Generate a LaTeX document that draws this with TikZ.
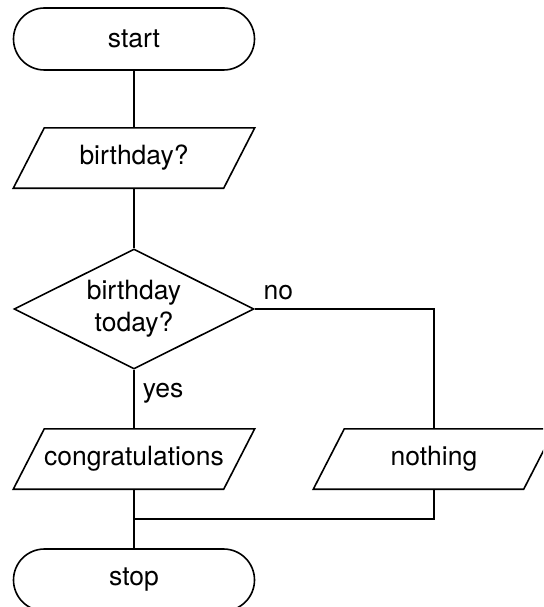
\documentclass[tikz,border=0pt]{standalone}
\usepackage{fontspec}
\setmainfont{TeX Gyre Heros}
\usetikzlibrary{shapes.geometric,shapes.misc}

\tikzset{
  every node/.style={font=\fontsize{26.5}{32}\selectfont},
  line/.style={line width=1.6pt, line join=miter},
  terminal/.style={rounded rectangle, draw, line, minimum width=241pt, minimum height=62pt, inner sep=0pt},
  iobox/.style={rectangle, minimum width=210pt, minimum height=60pt, inner sep=0pt},
  decision/.style={diamond, draw, line, aspect=2, minimum width=240pt, minimum height=120pt, inner sep=0pt, align=center},
  lbl/.style={inner sep=8pt}
}

\begin{document}
\begin{tikzpicture}[x=1pt, y=-1pt]
  \useasboundingbox (0,0) rectangle (543,607);
  \clip (0,0) rectangle (543,607);

  % nodes of the flowchart
  \node[terminal] (start) at (134,39) {start};
  \node[iobox] (ask) at (134,158) {birthday?};
  \node[decision] (today) at (134,309) {birthday\\today?};
  \node[iobox] (cong) at (134,459) {congratulations};
  \node[iobox] (nothing) at (434,459) {nothing};
  \node[terminal] (stop) at (134,580) {stop};
  \coordinate (merge) at (134,519);

  % input/output boxes drawn as parallelograms
  \foreach \n in {ask,cong,nothing}
    \draw[line] ([xshift=15.5pt]\n.north west) -- ([xshift=15.5pt]\n.north east)
      -- ([xshift=-15.5pt]\n.south east) -- ([xshift=-15.5pt]\n.south west) -- cycle;

  % connectors
  \draw[line] (start) -- (ask);
  \draw[line] (ask) -- (today);
  \draw[line] (today.south) -- node[pos=0.4, right, lbl] {yes} (cong.north);
  \draw[line] (today.east) node[above right, lbl] {no} -| (nothing.north);
  \draw[line] (cong.south) -- (merge) -- (stop.north);
  \draw[line] (nothing.south) |- (merge);
\end{tikzpicture}
\end{document}
